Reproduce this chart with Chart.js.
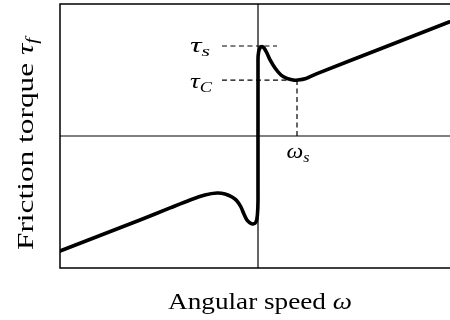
<!DOCTYPE html>
<html>
<head>
<meta charset="utf-8">
<script src="https://cdn.jsdelivr.net/npm/chart.js@4"></script>
<style>
  html, body { margin: 0; padding: 0; background: #fff; }
  #wrap { width: 450px; height: 320px; }
</style>
</head>
<body>
<div id="wrap"><canvas id="c"></canvas></div>
<script>
  // friction curve (omega, tau)
  const omega = [-1.000, -0.798, -0.596, -0.444, -0.343, -0.268, -0.207, -0.167, -0.131, -0.106,
                 -0.086, -0.071, -0.056, -0.040, -0.025, -0.010, -0.003, 0.000, 0.000, 0.003,
                 0.010, 0.020, 0.030, 0.045, 0.061, 0.086, 0.116, 0.146, 0.177, 0.202,
                 0.242, 0.298, 0.616, 0.965];
  const tau   = [-0.871, -0.754, -0.636, -0.545, -0.485, -0.447, -0.432, -0.439, -0.462, -0.492,
                 -0.538, -0.591, -0.636, -0.659, -0.667, -0.652, -0.598, -0.485, 0.576, 0.636,
                 0.667, 0.678, 0.667, 0.629, 0.576, 0.515, 0.462, 0.436, 0.424, 0.424,
                 0.436, 0.473, 0.659, 0.864];

  const tauS = 0.682;
  const tauC = 0.424;
  const omegaS = 0.197;
  const dashStart = -0.182;
  const tauSDashEnd = 0.096;

  const xRange = [-1, 0.9697];
  const yRange = [-1, 1];

  const serif = '"Liberation Serif", "DejaVu Serif", serif';

  function pts(xs, ys) { return xs.map((x, i) => ({ x: x, y: ys[i] })); }

  // draws text pieces with italic / subscript parts; stretched sideways to a width if asked
  function rich(ctx, parts, x, y, align, width) {
    let w = 0;
    parts.forEach(p => { ctx.font = p.f; w += ctx.measureText(p.t).width; });
    const k = width ? width / w : 1;
    const total = w * k;
    let cx = align === "center" ? x - total / 2 : align === "right" ? x - total : x;
    ctx.save();
    ctx.translate(cx, y);
    ctx.scale(k, 1);
    let off = 0;
    parts.forEach(p => {
      ctx.font = p.f;
      ctx.fillText(p.t, off, p.dy || 0);
      off += ctx.measureText(p.t).width;
    });
    ctx.restore();
  }

  const decor = {
    id: "decor",
    beforeDatasetsDraw(chart) {
      const { ctx, chartArea: a, scales } = chart;
      const x0 = scales.x.getPixelForValue(0);
      const y0 = scales.y.getPixelForValue(0);
      ctx.save();
      ctx.strokeStyle = "#000";
      ctx.lineWidth = 1.2;
      ctx.beginPath();
      ctx.moveTo(a.left, y0); ctx.lineTo(a.right, y0);
      ctx.moveTo(x0, a.top); ctx.lineTo(x0, a.bottom);
      ctx.stroke();
      ctx.lineWidth = 1.5;
      ctx.beginPath();
      ctx.moveTo(a.right + 5, a.top); ctx.lineTo(a.left, a.top);
      ctx.lineTo(a.left, a.bottom); ctx.lineTo(a.right + 5, a.bottom);
      ctx.stroke();
      ctx.restore();
    },
    afterDraw(chart) {
      const { ctx, scales } = chart;
      const sx = scales.x, sy = scales.y;
      ctx.save();
      ctx.fillStyle = "#000";
      ctx.textBaseline = "alphabetic";
      const it = "italic 22px " + serif;
      const sub = "italic 15px " + serif;
      rich(ctx, [{ t: "τ", f: it }, { t: "s", f: sub, dy: 4 }], 210, sy.getPixelForValue(tauS) + 6, "right", 20);
      rich(ctx, [{ t: "τ", f: it }, { t: "C", f: sub, dy: 4 }], 212, sy.getPixelForValue(tauC) + 8, "right", 22);
      rich(ctx, [{ t: "ω", f: it }, { t: "s", f: sub, dy: 4 }], sx.getPixelForValue(omegaS) + 1, sy.getPixelForValue(0) + 22, "center", 23);

      const big = "24px " + serif;
      const bigIt = "italic 24px " + serif;
      rich(ctx, [{ t: "Angular speed ", f: big }, { t: "ω", f: bigIt }], 260, 309, "center", 184);
      ctx.translate(33, 144);
      ctx.rotate(-Math.PI / 2);
      rich(ctx, [{ t: "Friction torque ", f: big }, { t: "τ", f: bigIt }, { t: "f", f: "italic 16px " + serif, dy: 4 }], 0, 0, "center", 212);
      ctx.restore();
    }
  };

  const dash = { borderColor: "#000", borderWidth: 1.2, borderDash: [5, 3.5], pointRadius: 0, showLine: true, fill: false, tension: 0 };

  new Chart(document.getElementById("c"), {
    type: "scatter",
    data: {
      datasets: [
        Object.assign({ data: [{ x: dashStart, y: tauS }, { x: tauSDashEnd, y: tauS }] }, dash),
        Object.assign({ data: [{ x: dashStart, y: tauC }, { x: omegaS, y: tauC }] }, dash),
        Object.assign({ data: [{ x: omegaS, y: tauC }, { x: omegaS, y: -0.02 }] }, dash),
        {
          data: pts(omega, tau),
          showLine: true,
          borderColor: "#000",
          borderWidth: 3.6,
          pointRadius: 0,
          tension: 0.25,
          borderCapStyle: "round",
          borderJoinStyle: "round",
          fill: false
        }
      ]
    },
    options: {
      responsive: true,
      maintainAspectRatio: false,
      animation: false,
      events: [],
      layout: { padding: { left: 60, top: 4, right: 0, bottom: 52 } },
      plugins: { legend: { display: false }, tooltip: { enabled: false } },
      scales: {
        x: { type: "linear", min: xRange[0], max: xRange[1], display: false },
        y: { type: "linear", min: yRange[0], max: yRange[1], display: false }
      }
    },
    plugins: [decor]
  });
</script>
</body>
</html>
